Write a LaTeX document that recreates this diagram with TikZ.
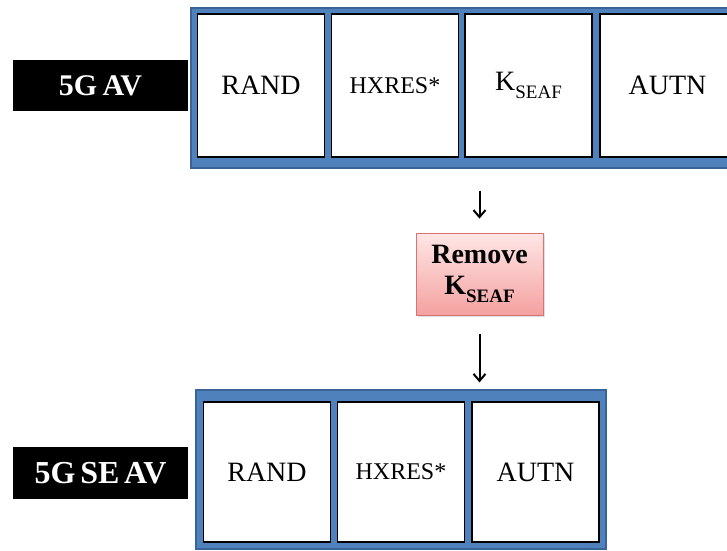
\documentclass[tikz,border=0pt]{standalone}
\usepackage{fontspec}
\setmainfont{Liberation Serif}
\usetikzlibrary{arrows.meta,shadows}
\definecolor{bandblue}{HTML}{4F81BD}
\definecolor{bandedge}{HTML}{3A639A}
\definecolor{pinktop}{HTML}{FFE6E6}
\definecolor{pinkbot}{HTML}{F3A1A0}
\definecolor{pinkedge}{HTML}{DA7272}
\newcommand{\fsz}[1]{\fontsize{#1}{#1}\selectfont}
\newcommand{\tightwords}[1]{\spaceskip=#1\relax}
\newcommand{\kseaf}{K\raisebox{-0.28em}{\fsz{19}SEAF}}
\begin{document}
\begin{tikzpicture}[x=1pt,y=-1pt,
  band/.style={draw=bandedge,fill=bandblue,line width=1.2pt,inner sep=0pt},
  field/.style={draw=black,fill=white,line width=1.6pt,inner sep=0pt,
    minimum width=127pt,font=\fsz{28}},
  tag/.style={fill=black,text=white,inner sep=0pt,minimum width=175pt,
    font=\bfseries\fsz{30}\tightwords{0.18em}},
  action/.style={draw=pinkedge,line width=0.8pt,top color=pinktop,bottom color=pinkbot,
    minimum width=127pt,minimum height=82pt,inner sep=0pt,align=center,
    font=\bfseries\fontsize{28}{31}\selectfont,
    drop shadow={opacity=0.25,shadow xshift=1.5pt,shadow yshift=-1.5pt}},
  arr/.style={line width=2pt,-{Straight Barb[length=7pt,width=12pt]}}]
\useasboundingbox (0,0) rectangle (727,550);
\clip (0,0) rectangle (727,550);
\fill[white] (0,0) rectangle (727,550);

% full 5G authentication vector
\node[band,minimum width=549pt,minimum height=160pt] (topband) at (465.5,88) {};
\node[field,minimum height=143pt] (t1) at (261,85.5) {RAND};
\node[field,minimum height=143pt,font=\fsz{24}] (t2) at (395,85.5) {HXRES*};
\node[field,minimum height=143pt] (t3) at (528.5,85.5) {\kseaf};
\node[field,minimum height=143pt,minimum width=135pt] (t4) at (667.5,85.5) {AUTN\hspace{8pt}};
\node[tag,minimum height=51pt] (avtag) at (100.5,85.5) {5G AV};

% removal step
\node[action] (rem) at (479.5,274) {Remove\\\kseaf};

% serving-network authentication vector
\node[band,minimum width=410pt,minimum height=159pt] (botband) at (401,469.5) {};
\node[field,minimum height=140pt] (b1) at (267,472) {RAND};
\node[field,minimum height=140pt,font=\fsz{24}] (b2) at (401,472) {HXRES*};
\node[field,minimum height=140pt] (b3) at (535.5,472) {AUTN};
\node[tag,minimum height=52pt,font=\bfseries\fsz{32}\tightwords{0.15em}] (setag) at (100.5,473) {5G SE AV};

% flow
\draw[arr,shorten <=22pt,shorten >=14pt] (rem.north |- topband.south) -- (rem.north);
\draw[arr,shorten <=19pt,shorten >=7pt] (rem.south) -- (rem.south |- botband.north);
\end{tikzpicture}
\end{document}
